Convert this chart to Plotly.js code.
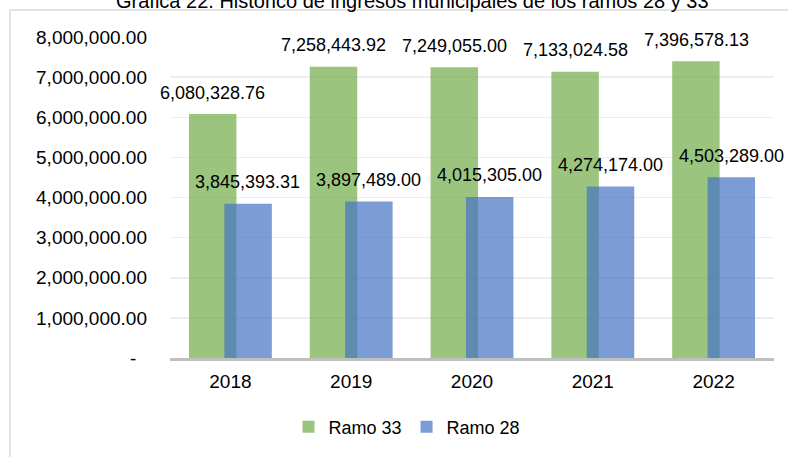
<!DOCTYPE html>
<html>
<head>
<meta charset="utf-8">
<script src="https://cdn.plot.ly/plotly-3.0.1.min.js"></script>
<style>
  html, body { margin: 0; padding: 0; background: #fff; }
  #chart { width: 788px; height: 457px; }
</style>
</head>
<body>
<div id="chart"></div>
<script>
const years = ['2018', '2019', '2020', '2021', '2022'];
const ramo33 = [6080328.76, 7258443.92, 7249055.00, 7133024.58, 7396578.13];
const ramo28 = [3845393.31, 3897489.00, 4015305.00, 4274174.00, 4503289.00];
const yTicks = [0, 1000000, 2000000, 3000000, 4000000, 5000000, 6000000, 7000000, 8000000];

const W = 788, H = 457;
const M = { l: 170, r: 14, t: 37, b: 99 };
const PW = W - M.l - M.r, PH = H - M.t - M.b;
const FONT = 'Arial, "Liberation Sans", sans-serif';

// pixel -> paper coordinates
const px = x => (x - M.l) / PW;
const py = y => (H - M.b - y) / PH;

function fmt(v) {
    return v.toLocaleString('en-US', { minimumFractionDigits: 2, maximumFractionDigits: 2 });
}

const tickText = yTicks.map(v => v === 0 ? '-\u00a0\u00a0' : fmt(v));

const traces = [
    {
        type: 'bar', name: 'Ramo 33', x: years, y: ramo33,
        width: 0.393, offset: -0.343,
        marker: { color: 'rgba(112,173,71,0.7)' },
        hoverinfo: 'none'
    },
    {
        type: 'bar', name: 'Ramo 28', x: years, y: ramo28,
        width: 0.393, offset: -0.05,
        marker: { color: 'rgba(68,114,196,0.7)' },
        hoverinfo: 'none'
    }
];

// value labels above the bars (x given as category index)
const labels = [];
years.forEach((yr, i) => {
    labels.push({ x: i, y: ramo33[i], xref: 'x', yref: 'y', text: fmt(ramo33[i]),
        showarrow: false, xshift: -17.5, yshift: 21.5, yanchor: 'middle',
        font: { family: FONT, size: 18, color: '#000' } });
    labels.push({ x: i, y: ramo28[i], xref: 'x', yref: 'y', text: fmt(ramo28[i]),
        showarrow: false, xshift: 17.5, yshift: 21.5, yanchor: 'middle',
        font: { family: FONT, size: 18, color: '#000' } });
});

// title, cut by the top of the picture
labels.push({
    xref: 'paper', yref: 'paper', x: px(412), y: py(1), xanchor: 'center', yanchor: 'middle',
    text: 'Gráfica 22. Histórico de ingresos municipales de los ramos 28 y 33',
    showarrow: false, font: { family: FONT, size: 20, color: '#000' }
});

const layout = {
    width: W, height: H,
    margin: M,
    paper_bgcolor: '#fff', plot_bgcolor: '#fff',
    barmode: 'overlay',
    showlegend: true,
    font: { family: FONT, color: '#000' },
    xaxis: {
        type: 'category', range: [-0.5, years.length - 0.5], autorange: false,
        showline: true, linecolor: '#BFBFBF', linewidth: 2.5,
        showgrid: false, zeroline: false,
        ticks: '', ticklabelstandoff: 5,
        tickfont: { family: FONT, size: 19, color: '#000' }
    },
    yaxis: {
        range: [0, 8000000], autorange: false,
        tickvals: yTicks, ticktext: tickText,
        showgrid: true, gridcolor: '#EEEEEE', gridwidth: 1.5,
        zeroline: false, showline: false,
        ticks: '', ticklabelstandoff: 22,
        tickfont: { family: FONT, size: 19, color: '#000' }
    },
    legend: {
        orientation: 'h', x: px(407), xanchor: 'center', y: py(427), yanchor: 'middle',
        font: { family: FONT, size: 18, color: '#000' },
        bgcolor: 'rgba(0,0,0,0)'
    },
    annotations: labels,
    shapes: [
        { type: 'line', xref: 'paper', yref: 'paper', x0: px(10), x1: px(10), y0: py(10), y1: py(H),
          line: { color: '#D9D9D9', width: 1.5 } },
        { type: 'line', xref: 'paper', yref: 'paper', x0: px(10), x1: px(W), y0: py(10), y1: py(10),
          line: { color: '#D9D9D9', width: 1.5 } }
    ]
};

Plotly.newPlot('chart', traces, layout, { displayModeBar: false, staticPlot: true });
</script>
</body>
</html>
